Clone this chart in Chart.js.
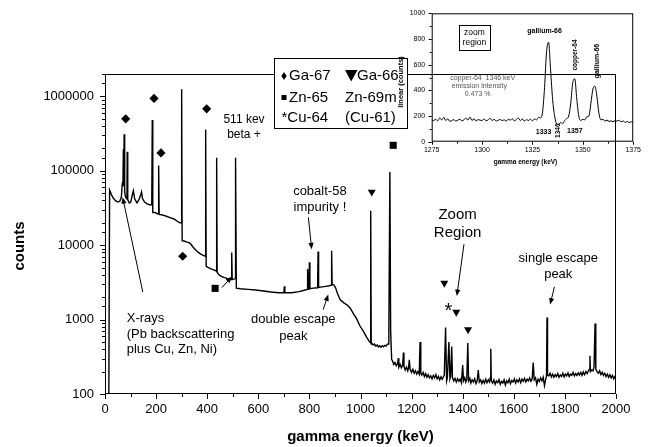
<!DOCTYPE html>
<html>
<head>
<meta charset="utf-8">
<script src="https://cdn.jsdelivr.net/npm/chart.js@4/dist/chart.umd.min.js"></script>
<style>
  html, body { margin: 0; padding: 0; background: #fff; }
  #wrap { position: relative; width: 649px; height: 447px; }
  #main { position: absolute; left: 0; top: 0; }
  #inset { position: absolute; left: 380px; top: 0; }
</style>
</head>
<body>
<div id="wrap">
  <canvas id="main" width="649" height="447"></canvas>
  <canvas id="inset" width="265" height="178"></canvas>
</div>
<script>
const FONT = '"Liberation Sans", Arial, Helvetica, sans-serif';

// gamma spectrum, low energy part (keV / counts)
const lowKeV = [
  15, 18, 25, 32, 40, 50, 58, 64, 68, 70,
  72, 73, 75, 77, 80, 84, 86, 87, 89, 95,
  101, 106, 111, 116, 125, 133, 140, 143, 147, 155,
  165, 175, 183, 185, 187, 195, 205, 209, 210, 212,
  225, 240, 255, 270, 283, 293, 298, 300, 302, 312,
  322, 330, 337, 345, 355, 365, 375, 385, 393, 394,
  396, 405, 415, 425, 436, 437, 439, 450, 465, 480,
  494, 496, 498, 504, 509, 511, 514
];
const lowCounts = [
  100, 55000, 48000, 43000, 40000, 38000, 39000, 44000, 70000, 62000,
  196000, 62000, 310000, 52000, 45000, 42000, 45000, 180000, 41000, 37000,
  38000, 46000, 54000, 42000, 37000, 41000, 48000, 52000, 42000, 38000,
  36000, 35000, 35000, 480000, 27500, 27500, 26500, 26500, 118000, 26000,
  25500, 24500, 23500, 22500, 21000, 20000, 20000, 1250000, 11500, 11300,
  11000, 10800, 10200, 9400, 8600, 8000, 7600, 7300, 7100, 360000,
  5200, 5000, 4800, 4650, 4500, 150000, 4300, 3900, 3700, 3550,
  3450, 8000, 3450, 3500, 3550, 150000, 2650
];

// middle part, up to the Zn-65 line
const midKeV = [
  530, 560, 590, 620, 650, 680, 700, 702, 704, 730,
  760, 780, 791, 793, 795, 798, 800, 802, 815, 832,
  834, 836, 850, 865, 878, 885, 887, 889, 895, 902,
  910, 920, 935, 950, 960, 972, 985, 998, 1011, 1024,
  1034, 1038, 1040, 1042, 1045, 1050, 1055, 1060, 1065, 1070,
  1075, 1080, 1085, 1090, 1095, 1100, 1105, 1108, 1111, 1115,
  1118, 1122
];
const midCounts = [
  2600, 2550, 2500, 2420, 2350, 2300, 2300, 2800, 2300, 2300,
  2380, 2480, 2550, 4800, 2550, 2600, 5900, 2600, 2650, 2680,
  8200, 2700, 2750, 2800, 2850, 2900, 8400, 2950, 2950, 2700,
  2250, 1860, 1680, 1550, 1420, 1200, 1020, 820, 700, 580,
  510, 490, 29000, 470, 480, 455, 470, 440, 455, 430,
  445, 425, 445, 430, 450, 440, 465, 470, 700, 96000,
  700, 290
];

// noisy high energy tail
const tailKeV = [
  1125, 1130, 1135, 1140, 1145, 1148, 1150, 1155, 1160, 1165,
  1168, 1170, 1175, 1180, 1185, 1188, 1191, 1194, 1200, 1205,
  1210, 1215, 1220, 1225, 1230, 1233, 1236, 1240, 1245, 1250,
  1255, 1260, 1265, 1270, 1275, 1280, 1285, 1290, 1295, 1300,
  1305, 1310, 1315, 1320, 1325, 1328, 1333, 1337, 1340, 1346,
  1350, 1353, 1357, 1360, 1365, 1370, 1375, 1380, 1385, 1390,
  1395, 1400, 1403, 1408, 1412, 1416, 1420, 1423, 1428, 1432,
  1437, 1442, 1447, 1452, 1457, 1461, 1465, 1470, 1475, 1480,
  1485, 1490, 1495, 1500, 1505, 1508, 1510, 1512, 1517, 1522,
  1527, 1532, 1537, 1542, 1547, 1552, 1557, 1562, 1567, 1572,
  1577, 1582, 1587, 1592, 1597, 1602, 1607, 1612, 1617, 1622,
  1627, 1632, 1637, 1642, 1647, 1652, 1657, 1662, 1667, 1672,
  1676, 1680, 1685, 1690, 1695, 1700, 1705, 1710, 1715, 1720,
  1725, 1728, 1730, 1732, 1737, 1742, 1747, 1752, 1757, 1762,
  1767, 1772, 1777, 1782, 1787, 1792, 1797, 1802, 1807, 1812,
  1817, 1822, 1827, 1832, 1837, 1842, 1847, 1852, 1857, 1862,
  1867, 1872, 1877, 1882, 1887, 1892, 1896, 1898, 1900, 1905,
  1910, 1914, 1918, 1921, 1926, 1931, 1936, 1941, 1946, 1951,
  1956, 1961, 1966, 1971, 1976, 1981, 1986, 1991, 1996, 2000
];
const tailCounts = [
  280, 250, 265, 240, 255, 303, 230, 250, 225, 245,
  362, 235, 210, 230, 205, 225, 288, 215, 195, 215,
  190, 205, 185, 200, 185, 500, 190, 180, 195, 172,
  188, 168, 182, 165, 175, 160, 178, 165, 182, 160,
  172, 155, 170, 158, 172, 180, 780, 150, 165, 500,
  160, 175, 436, 165, 150, 162, 145, 160, 148, 158,
  142, 245, 150, 165, 145, 158, 484, 150, 162, 140,
  155, 145, 160, 138, 152, 210, 145, 155, 138, 152,
  140, 158, 142, 155, 145, 165, 405, 150, 140, 155,
  135, 150, 142, 156, 135, 148, 140, 155, 132, 150,
  142, 158, 138, 152, 145, 160, 140, 155, 145, 160,
  142, 158, 148, 162, 145, 158, 150, 165, 148, 160,
  265, 155, 165, 135, 158, 148, 165, 150, 168, 130,
  160, 175, 1070, 180, 175, 190, 170, 185, 168, 182,
  172, 188, 168, 180, 172, 190, 170, 185, 175, 192,
  172, 185, 178, 195, 175, 188, 178, 192, 180, 195,
  178, 198, 182, 200, 188, 205, 215, 326, 200, 210,
  205, 230, 885, 215, 200, 190, 205, 182, 195, 178,
  190, 172, 185, 168, 182, 165, 178, 160, 172, 162
];

// isotope markers
const ga67KeV = [81, 192, 219, 304, 398];
const ga67Counts = [500000, 940000, 174000, 7100, 680000];
const ga66KeV = [1044, 1328, 1375, 1421];
const ga66Counts = [52000, 3100, 1260, 733];
const zn65KeV = [431, 1128];
const zn65Counts = [2630, 220000];
const cu64KeV = [1344];
const cu64Counts = [1550];

// inset: zoom region, linear counts
const insetKeV = [
  1275, 1276, 1277, 1278, 1279, 1280, 1281, 1282, 1283, 1284,
  1285, 1286, 1287, 1288, 1289, 1290, 1291, 1292, 1293, 1294,
  1295, 1296, 1297, 1298, 1299, 1300, 1301, 1302, 1303, 1304,
  1305, 1306, 1307, 1308, 1309, 1310, 1311, 1312, 1313, 1314,
  1315, 1316, 1317, 1318, 1319, 1320, 1321, 1322, 1323, 1324,
  1325, 1326, 1327, 1328, 1329, 1330, 1331, 1332, 1333, 1334,
  1335, 1336, 1337, 1338, 1339, 1340, 1341, 1342, 1343, 1344,
  1345, 1346, 1347, 1348, 1349, 1350, 1351, 1352, 1353, 1354,
  1355, 1356, 1357, 1358, 1359, 1360, 1361, 1362, 1363, 1364,
  1365, 1366, 1367, 1368, 1369, 1370, 1371, 1372, 1373, 1374,
  1375
];
const insetCounts = [
  168, 165, 175, 162, 185, 170, 190, 165, 178, 158,
  165, 172, 160, 168, 175, 162, 170, 185, 168, 192,
  165, 180, 160, 172, 168, 165, 178, 162, 170, 182,
  165, 175, 160, 168, 172, 165, 170, 160, 175, 168,
  180, 162, 172, 185, 165, 178, 160, 172, 165, 175,
  162, 178, 170, 190, 185, 230, 420, 700, 775, 560,
  330, 200, 140, 135, 150, 140, 165, 180, 200, 300,
  460, 490, 330, 200, 165, 175, 170, 195, 200, 300,
  410, 432, 350, 220, 170, 175, 160, 168, 158, 162,
  155, 165, 160, 168, 155, 162, 150, 158, 148, 155,
  150
];

const yDecades = [100, 1000, 10000, 100000, 1000000];

const toPoints = (xs, ys) => xs.map((x, i) => ({ x, y: ys[i] }));
const spectrumKeV = lowKeV.concat(midKeV, tailKeV);
const spectrumCounts = lowCounts.concat(midCounts, tailCounts);

Chart.defaults.font.family = FONT;
Chart.defaults.color = '#000';

function arrow(ctx, x0, y0, x1, y1) {
  const a = Math.atan2(y1 - y0, x1 - x0);
  const h = 6.5, w = 2.6;
  ctx.beginPath();
  ctx.moveTo(x0, y0);
  ctx.lineTo(x1 - Math.cos(a) * h * 0.7, y1 - Math.sin(a) * h * 0.7);
  ctx.stroke();
  ctx.beginPath();
  ctx.moveTo(x1, y1);
  ctx.lineTo(x1 - h * Math.cos(a) + w * Math.sin(a), y1 - h * Math.sin(a) - w * Math.cos(a));
  ctx.lineTo(x1 - h * Math.cos(a) - w * Math.sin(a), y1 - h * Math.sin(a) + w * Math.cos(a));
  ctx.closePath();
  ctx.fill();
}

// text notes on the main plot, placed in data coordinates
const notes = [
  { lines: ['511 kev', 'beta +'], x: 544, y: 480000, size: 12, gap: 14.5 },
  { lines: ['cobalt-58', 'impurity !'], x: 841, y: 53000, size: 13, gap: 16 },
  { lines: ['double escape', 'peak'], x: 737, y: 1000, size: 13, gap: 16.5 },
  { lines: ['X-rays', '(Pb backscattering', 'plus Cu, Zn, Ni)'], x: 85, y: 1030, size: 13, gap: 15.5, align: 'left' },
  { lines: ['Zoom', 'Region'], x: 1380, y: 25400, size: 15, gap: 17.5 },
  { lines: ['single escape', 'peak'], x: 1774, y: 6620, size: 13, gap: 15.7 }
];
const arrows = [
  [796, 23700, 809, 8800],
  [854, 1365, 874, 2180],
  [148, 2340, 69, 44200],
  [458, 2700, 497, 3800],
  [1405, 10300, 1377, 2070],
  [1759, 2760, 1742, 1590]
];

const mainDecor = {
  id: 'mainDecor',
  afterDatasetsDraw(chart) {
    const { ctx, chartArea: a, scales: { x, y } } = chart;
    ctx.save();
    ctx.strokeStyle = '#000';
    ctx.fillStyle = '#000';
    ctx.lineWidth = 1;

    // frame
    ctx.strokeRect(a.left + 0.5, a.top + 0.5, a.right - a.left - 1, a.bottom - a.top - 1);

    // tick marks, majors longer
    ctx.beginPath();
    for (let v = 0; v <= 2000; v += 100) {
      const px = Math.round(x.getPixelForValue(v)) + 0.5;
      ctx.moveTo(px, a.bottom);
      ctx.lineTo(px, a.bottom + (v % 200 ? 3 : 5));
    }
    y.ticks.forEach(t => {
      const py = Math.round(y.getPixelForValue(t.value)) + 0.5;
      const major = yDecades.includes(Math.round(t.value));
      ctx.moveTo(a.left, py);
      ctx.lineTo(a.left - (major ? 5 : 3), py);
    });
    ctx.stroke();

    // Cu-64 asterisk marker
    ctx.font = '20px ' + FONT;
    ctx.textAlign = 'center';
    ctx.textBaseline = 'alphabetic';
    cu64KeV.forEach((e, i) => {
      ctx.fillText('*', x.getPixelForValue(e), y.getPixelForValue(cu64Counts[i]) + 11.5);
    });

    // notes
    ctx.textBaseline = 'middle';
    notes.forEach(n => {
      ctx.font = n.size + 'px ' + FONT;
      ctx.textAlign = n.align || 'center';
      const px = x.getPixelForValue(n.x), py = y.getPixelForValue(n.y);
      n.lines.forEach((s, i) => ctx.fillText(s, px, py + i * n.gap));
    });
    ctx.lineWidth = 1;
    arrows.forEach(([e0, c0, e1, c1]) => {
      arrow(ctx, x.getPixelForValue(e0), y.getPixelForValue(c0), x.getPixelForValue(e1), y.getPixelForValue(c1));
    });

    // axis titles
    ctx.font = 'bold 15px ' + FONT;
    ctx.textAlign = 'center';
    ctx.fillText('gamma energy (keV)', (a.left + a.right) / 2, 437);
    ctx.save();
    ctx.translate(20, 246);
    ctx.rotate(-Math.PI / 2);
    ctx.fillText('counts', 0, 0);
    ctx.restore();

    // legend box
    ctx.fillStyle = '#fff';
    ctx.fillRect(274.5, 58.5, 133, 70);
    ctx.strokeRect(274.5, 58.5, 133, 70);
    ctx.fillStyle = '#000';
    ctx.font = '15px ' + FONT;
    ctx.textAlign = 'left';
    ctx.fillText('Ga-67', 289, 76);
    ctx.fillText('Zn-65', 289, 97.5);
    ctx.fillText('*Cu-64', 281.5, 118);
    ctx.fillText('Ga-66', 357, 76);
    ctx.fillText('Zn-69m', 345, 97.5);
    ctx.fillText('(Cu-61)', 345, 118);
    // diamond
    ctx.beginPath();
    ctx.moveTo(284, 72); ctx.lineTo(286.6, 76); ctx.lineTo(284, 80); ctx.lineTo(281.4, 76);
    ctx.closePath(); ctx.fill();
    // square
    ctx.fillRect(281.5, 95, 5, 5);
    // triangle
    ctx.beginPath();
    ctx.moveTo(345, 70); ctx.lineTo(357.5, 70); ctx.lineTo(351.2, 81.5);
    ctx.closePath(); ctx.fill();
    ctx.restore();
  }
};

new Chart(document.getElementById('main'), {
  type: 'scatter',
  data: {
    datasets: [
      {
        data: toPoints(spectrumKeV, spectrumCounts),
        showLine: true,
        borderColor: '#000',
        borderWidth: 1.4,
        pointRadius: 0,
        tension: 0
      },
      {
        data: toPoints(ga67KeV, ga67Counts),
        pointStyle: 'rectRot',
        pointRadius: 4.6,
        pointBackgroundColor: '#000',
        pointBorderWidth: 0
      },
      {
        data: toPoints(ga66KeV, ga66Counts),
        pointStyle: 'triangle',
        pointRotation: 180,
        pointRadius: 4.6,
        pointBackgroundColor: '#000',
        pointBorderWidth: 0
      },
      {
        data: toPoints(zn65KeV, zn65Counts),
        pointStyle: 'rect',
        pointRadius: 5,
        pointBackgroundColor: '#000',
        pointBorderWidth: 0
      }
    ]
  },
  options: {
    responsive: false,
    animation: false,
    devicePixelRatio: 1,
    layout: { padding: { left: 0, right: 33, top: 74, bottom: 0 } },
    plugins: { legend: { display: false }, tooltip: { enabled: false } },
    scales: {
      x: {
        type: 'linear',
        min: 0,
        max: 2000,
        grid: { display: false, drawTicks: false },
        border: { display: false },
        ticks: {
          stepSize: 200, padding: 8, maxRotation: 0, autoSkip: false, font: { size: 13 },
          callback: v => String(v)
        },
        afterFit: s => { s.height = 53; }
      },
      y: {
        type: 'logarithmic',
        min: 100,
        max: 2000000,
        grid: { display: false, drawTicks: false },
        border: { display: false },
        ticks: {
          autoSkip: false,
          padding: 11,
          font: { size: 13 },
          callback: v => yDecades.includes(Math.round(v)) ? String(Math.round(v)) : ''
        },
        afterFit: s => { s.width = 105; }
      }
    }
  },
  plugins: [mainDecor]
});

// inset notes in its own data coordinates
const insetNotes = [
  { text: 'gallium-66', x: 1331, y: 860, size: 7, bold: true },
  { text: 'copper-64', x: 1346.3, y: 675, size: 6.5, bold: true, rot: true },
  { text: 'gallium-66', x: 1357, y: 628, size: 7, bold: true, rot: true },
  { text: 'copper-64  1346 keV', x: 1300.3, y: 498, size: 7, color: '#555' },
  { text: 'emission intensity', x: 1298.6, y: 434, size: 7, color: '#555' },
  { text: '0.473 %', x: 1297.8, y: 369, size: 7, color: '#555' },
  { text: '1333', x: 1330.5, y: 78, size: 7, bold: true },
  { text: '1346', x: 1338, y: 86, size: 6.5, bold: true, rot: true },
  { text: '1357', x: 1346, y: 83, size: 7, bold: true }
];

const insetDecor = {
  id: 'insetDecor',
  afterDatasetsDraw(chart) {
    const { ctx, chartArea: a, scales: { x, y } } = chart;
    ctx.save();
    ctx.strokeStyle = '#000';
    ctx.fillStyle = '#000';
    ctx.lineWidth = 1;
    ctx.strokeRect(a.left + 0.5, a.top + 0.5, a.right - a.left - 1, a.bottom - a.top - 1);

    ctx.beginPath();
    for (let v = 1275; v <= 1375; v += 12.5) {
      const px = Math.round(x.getPixelForValue(v)) + 0.5;
      ctx.moveTo(px, a.bottom);
      ctx.lineTo(px, a.bottom + ((v - 1275) % 25 ? 2 : 3));
    }
    for (let v = 0; v <= 1000; v += 100) {
      const py = Math.round(y.getPixelForValue(v)) + 0.5;
      ctx.moveTo(a.left, py);
      ctx.lineTo(a.left - (v % 200 ? 2 : 3), py);
    }
    ctx.stroke();

    ctx.textAlign = 'center';
    ctx.textBaseline = 'middle';
    insetNotes.forEach(n => {
      ctx.font = (n.bold ? 'bold ' : '') + n.size + 'px ' + FONT;
      ctx.fillStyle = n.color || '#000';
      const px = x.getPixelForValue(n.x), py = y.getPixelForValue(n.y);
      if (n.rot) {
        ctx.save();
        ctx.translate(px, py);
        ctx.rotate(-Math.PI / 2);
        ctx.fillText(n.text, 0, 0);
        ctx.restore();
      } else {
        ctx.fillText(n.text, px, py);
      }
    });

    // boxed "zoom region" label
    ctx.fillStyle = '#000';
    const bx = x.getPixelForValue(1296.2), by = y.getPixelForValue(811);
    ctx.strokeRect(Math.round(bx - 15.7) + 0.5, Math.round(by - 12.5) + 0.5, 31, 25);
    ctx.font = '8.5px ' + FONT;
    ctx.fillText('zoom', bx, by - 4.5);
    ctx.fillText('region', bx, by + 5.5);

    // titles
    ctx.font = 'bold 6.5px ' + FONT;
    ctx.fillText('gamma energy (keV)', (a.left + a.right) / 2 - 7, 162);
    ctx.font = 'bold 7.5px ' + FONT;
    ctx.save();
    ctx.translate(21, 82);
    ctx.rotate(-Math.PI / 2);
    ctx.fillText('linear (counts)', 0, 0);
    ctx.restore();
    ctx.restore();
  }
};

new Chart(document.getElementById('inset'), {
  type: 'scatter',
  data: {
    datasets: [{
      data: toPoints(insetKeV, insetCounts),
      showLine: true,
      borderColor: '#000',
      borderWidth: 1,
      pointRadius: 0,
      cubicInterpolationMode: 'monotone'
    }]
  },
  options: {
    responsive: false,
    animation: false,
    devicePixelRatio: 1,
    layout: { padding: { left: 0, right: 9, top: 13.3, bottom: 0 } },
    plugins: { legend: { display: false }, tooltip: { enabled: false } },
    scales: {
      x: {
        min: 1275,
        max: 1375,
        grid: { display: false, drawTicks: false },
        border: { display: false },
        ticks: {
          stepSize: 25, padding: 4, maxRotation: 0, autoSkip: false, font: { size: 7 },
          callback: v => String(v)
        },
        afterFit: s => { s.height = 36.3; }
      },
      y: {
        min: 0,
        max: 1000,
        grid: { display: false, drawTicks: false },
        border: { display: false },
        ticks: { stepSize: 200, padding: 6.5, font: { size: 7 }, callback: v => String(v) },
        afterFit: s => { s.width = 51.7; }
      }
    }
  },
  plugins: [insetDecor]
});
</script>
</body>
</html>
